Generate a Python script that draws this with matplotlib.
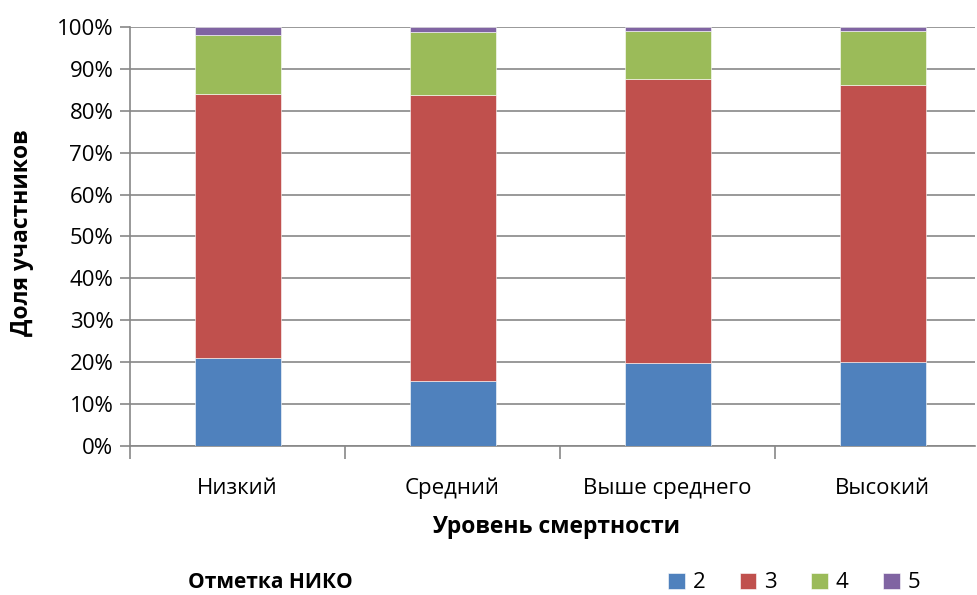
import matplotlib
matplotlib.use("Agg")
import matplotlib.pyplot as plt
import numpy as np
from matplotlib.ticker import PercentFormatter, FixedLocator

plt.rcParams['font.family'] = ['Open Sans', 'DejaVu Sans']

# Mortality levels and share of participants per NIKO mark (percent)
categories = ['Низкий', 'Средний', 'Выше среднего', 'Высокий']
mark_labels = ['2', '3', '4', '5']
mark_2 = [20.9, 15.5, 19.7, 20.0]
mark_3 = [63.1, 68.3, 67.9, 66.2]
mark_4 = [14.1, 15.0, 11.4, 12.9]
mark_5 = [1.9, 1.2, 1.0, 0.9]
colors = ['#4F81BD', '#C0504D', '#9BBB59', '#8064A2']

fig = plt.figure(figsize=(9.77, 5.95), dpi=100)
ax = fig.add_axes([130 / 977, 1 - 446 / 595, 845 / 977, 419 / 595])

x = np.arange(len(categories))
bottom = np.zeros(len(categories))
handles = []
for vals, lab, col in zip([mark_2, mark_3, mark_4, mark_5], mark_labels, colors):
    b = ax.bar(x, vals, width=0.40, bottom=bottom, color=col, label=lab,
               edgecolor='white', linewidth=0.4, zorder=3)
    handles.append(b)
    bottom += np.array(vals)

# plot area is cut off on the right in the original
ax.set_xlim(-0.5, 3.43)
ax.set_ylim(0, 100)
ax.set_yticks(np.arange(0, 101, 10))
ax.yaxis.set_major_formatter(PercentFormatter(decimals=0))
ax.grid(axis='y', color='#878787', linewidth=1.2, zorder=0)

# category labels with boundary tick marks like Excel
ax.set_xticks(x)
ax.set_xticklabels(categories, fontsize=16)
ax.tick_params(axis='x', which='major', length=0, pad=23)
ax.xaxis.set_minor_locator(FixedLocator(np.arange(-0.5, len(categories) - 0.5, 1.0)))
ax.tick_params(axis='x', which='minor', length=9, color='#878787', width=1.2)
ax.tick_params(axis='y', length=7, color='#878787', width=1.2, labelsize=16, pad=5)

for s in ['top', 'right']:
    ax.spines[s].set_visible(False)
for s in ['left', 'bottom']:
    ax.spines[s].set_color('#878787')
    ax.spines[s].set_linewidth(1.2)

fig.text(556 / 977, 1 - 527 / 595, 'Уровень смертности', ha='center', va='center',
         fontsize=16.5, fontweight='bold')
fig.text(22 / 977, 1 - 233 / 595, 'Доля участников', ha='center', va='center',
         rotation=90, fontsize=16.5, fontweight='bold')
fig.text(270 / 977, 1 - 583 / 595, 'Отметка НИКО', ha='center', va='center',
         fontsize=15, fontweight='bold')

fig.legend(handles=handles, labels=mark_labels, loc='center right',
           bbox_to_anchor=(920 / 977, 1 - 583 / 595), ncol=4, frameon=False,
           fontsize=16, handlelength=0.75, handleheight=0.75,
           handletextpad=0.35, columnspacing=1.55, borderaxespad=0, borderpad=0)

fig.savefig('out.png', dpi=100)
